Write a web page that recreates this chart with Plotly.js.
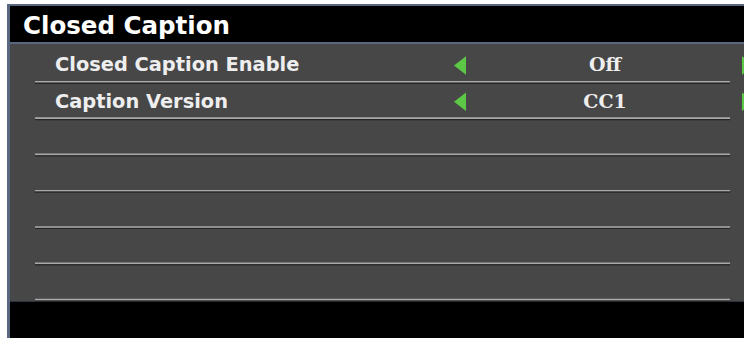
<!DOCTYPE html>
<html>
<head>
<meta charset="utf-8">
<script src="https://cdn.plot.ly/plotly-3.0.1.min.js"></script>
<style>html,body{margin:0;padding:0;background:#fff;}#chart{width:744px;height:338px;}</style>
</head>
<body>
<div id="chart"></div>
<script>
// ---- data ----
var menuTitle = "Closed Caption";
var itemLabels = ["Closed Caption Enable", "Caption Version"];
var itemValues = ["Off", "CC1"];
var rowCount = 7;

// ---- layout constants ----
var W = 744, H = 338;
var rowTop = 46, rowPitch = 36.3;
var lineX0 = 35, lineX1 = 730;
var labelX = 55, valueX = 605, leftArrowX = 462, rightArrowX = 746;

function rowCenter(i){ return rowTop + rowPitch * i + 20.5; }
function sepY(i){ return rowTop + rowPitch * (i + 1) - 0.5; }

var traces = [];
// separator lines
for (var i = 0; i < rowCount; i++) {
  var y = sepY(i);
  traces.push({x:[lineX0,lineX1], y:[y,y], mode:'lines', line:{color:'#a9a9a9', width:1.6}, hoverinfo:'skip', showlegend:false});
  traces.push({x:[lineX0,lineX1], y:[y+1.5,y+1.5], mode:'lines', line:{color:'#262626', width:1.2}, hoverinfo:'skip', showlegend:false});
}
var ys = itemLabels.map(function(_, i){ return rowCenter(i); });
traces.push({x:itemLabels.map(function(){return labelX;}), y:ys, text:itemLabels, mode:'text', textposition:'middle right',
  textfont:{family:'DejaVu Sans', size:19.4, color:'#eeeeee', weight:'bold'}, hoverinfo:'skip', showlegend:false});
traces.push({x:itemValues.map(function(){return valueX;}), y:ys, text:itemValues, mode:'text', textposition:'middle center',
  textfont:{family:'DejaVu Serif', size:19, color:'#eeeeee', weight:'bold'}, hoverinfo:'skip', showlegend:false});
traces.push({x:itemValues.map(function(){return leftArrowX;}), y:ys.map(function(v){return v-1;}), mode:'markers',
  marker:{symbol:'triangle-left', size:16, color:'#5cc845', line:{width:0}}, hoverinfo:'skip', showlegend:false});
traces.push({x:itemValues.map(function(){return rightArrowX;}), y:ys.map(function(v){return v-1;}), mode:'markers',
  marker:{symbol:'triangle-right', size:16, color:'#5cc845', line:{width:0}}, hoverinfo:'skip', showlegend:false});
traces.push({x:[23], y:[28], text:[menuTitle], mode:'text', textposition:'middle right',
  textfont:{family:'DejaVu Sans', size:24.5, color:'#ffffff', weight:'bold'}, hoverinfo:'skip', showlegend:false});

var shapes = [
  {type:'rect', xref:'x', yref:'y', x0:7, x1:W, y0:4, y1:H, fillcolor:'#5a6780', line:{width:0}, layer:'below'},
  {type:'rect', xref:'x', yref:'y', x0:10, x1:W, y0:6, y1:42, fillcolor:'#000000', line:{width:0}, layer:'below'},
  {type:'rect', xref:'x', yref:'y', x0:10, x1:W, y0:44, y1:301, fillcolor:'#474747', line:{width:0}, layer:'below'},
  {type:'rect', xref:'x', yref:'y', x0:10, x1:W, y0:301.5, y1:H, fillcolor:'#000000', line:{width:0}, layer:'below'}
];

var layout = {
  width:W, height:H, margin:{l:0,r:0,t:0,b:0,pad:0},
  paper_bgcolor:'#ffffff', plot_bgcolor:'#ffffff',
  xaxis:{range:[0,W], visible:false, fixedrange:true},
  yaxis:{range:[H,0], visible:false, fixedrange:true},
  shapes:shapes, showlegend:false
};
Plotly.newPlot('chart', traces, layout, {displayModeBar:false, staticPlot:true});
</script>
</body>
</html>
